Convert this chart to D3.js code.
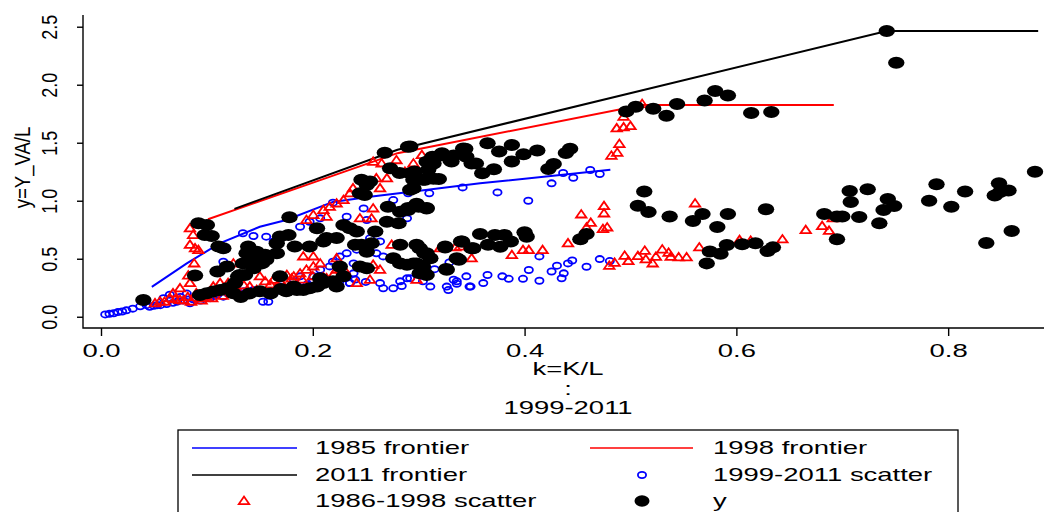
<!DOCTYPE html>
<html>
<head>
<meta charset="utf-8">
<script src="https://cdn.jsdelivr.net/npm/d3@7"></script>
<style>
  html, body { margin: 0; padding: 0; background: #fff; }
  svg { display: block; }
  text { font-family: "Liberation Sans", Arial, Helvetica, sans-serif; fill: #000; }
</style>
</head>
<body>
<svg id="chart" width="1044" height="512"></svg>
<script>
// Frontier polylines (k, y)
const frontier1985 = [[0.048,0.257],[0.081,0.46],[0.112,0.632],[0.150,0.776],[0.175,0.834],[0.219,0.99],[0.254,1.035],[0.295,1.079],[0.358,1.15],[0.481,1.268]];
const frontier1998 = [[0.101,0.84],[0.28,1.41],[0.511,1.825],[0.692,1.825]];
const frontier2011 = [[0.126,0.93],[0.28,1.44],[0.742,2.463],[0.885,2.463]];

// 1999-2011 observations (open blue circles)
const scatter19992011 = [
  [0.004,0.02],[0.008,0.025],[0.012,0.03],[0.016,0.04],[0.02,0.045],[0.024,0.055],[0.03,0.07],[0.037,0.09],
  [0.043,0.1],[0.046,0.086],[0.05,0.095],[0.053,0.1],[0.056,0.1],[0.059,0.16],[0.062,0.11],[0.065,0.19],
  [0.068,0.12],[0.072,0.13],[0.075,0.17],[0.078,0.14],[0.081,0.2],[0.084,0.116],[0.087,0.15],[0.09,0.16],
  [0.094,0.14],[0.097,0.17],[0.103,0.16],[0.107,0.18],[0.11,0.19],[0.1155,0.173],[0.12,0.2],[0.125,0.21],
  [0.131,0.2],[0.135,0.22],[0.144,0.23],[0.148,0.21],[0.153,0.129],[0.158,0.129],[0.163,0.2],[0.169,0.26],
  [0.175,0.24],[0.182,0.305],[0.188,0.348],[0.185,0.27],[0.19,0.25],[0.195,0.28],[0.2,0.3],[0.205,0.27],
  [0.21,0.29],[0.215,0.31],[0.22,0.28],[0.225,0.3],[0.235,0.29],[0.24,0.32],[0.25,0.3],[0.2635,0.29],
  [0.2665,0.245],[0.276,0.245],[0.2825,0.305],[0.289,0.331],[0.284,0.265],[0.292,0.331],[0.304,0.305],
  [0.311,0.26],[0.3265,0.26],[0.328,0.23],[0.333,0.319],[0.336,0.284],[0.345,0.348],[0.349,0.26],
  [0.361,0.29],[0.365,0.36],[0.379,0.348],[0.385,0.327],[0.3985,0.327],[0.404,0.403],[0.414,0.31],
  [0.414,0.52],[0.4255,0.39],[0.4306,0.44],[0.435,0.331],[0.437,0.374],[0.441,0.46],[0.445,0.485],
  [0.4585,0.431],[0.471,0.497],[0.4805,0.48],[0.315,0.41],[0.329,0.468],[0.336,0.305],[0.348,0.26],
  [0.1155,0.474],[0.134,0.72],[0.1375,0.52],[0.144,0.696],[0.156,0.69],[0.163,0.649],[0.188,0.776],
  [0.197,0.819],[0.207,0.848],[0.219,0.983],[0.232,0.862],[0.248,0.934],[0.251,0.834],[0.276,1.006],
  [0.289,0.848],[0.29,1.064],[0.31,1.064],[0.3415,1.115],[0.3744,1.072],[0.4035,1.0],[0.4255,1.15],
  [0.4364,1.239],[0.446,1.198],[0.462,1.265],[0.471,1.23],
  [0.2005,0.348],[0.207,0.405],[0.216,0.434],[0.219,0.474],[0.2255,0.52],[0.232,0.547],[0.2385,0.46],
  [0.2385,0.374],[0.2415,0.578],[0.235,0.29],[0.254,0.676],[0.2635,0.649],[0.26,0.547],[0.2665,0.52]
];

// 1986-1998 observations (open red triangles)
const scatter19861998 = [
  [0.051,0.116],[0.0557,0.132],[0.06,0.13],[0.065,0.159],[0.068,0.202],[0.07,0.15],[0.0746,0.245],[0.0746,0.144],
  [0.078,0.14],[0.082,0.17],[0.0824,0.356],[0.084,0.29],[0.085,0.13],[0.09,0.202],[0.0935,0.159],[0.095,0.14],
  [0.10,0.173],[0.105,0.16],[0.106,0.26],[0.11,0.22],[0.1125,0.29],[0.115,0.18],[0.12,0.29],[0.12,0.25],
  [0.125,0.46],[0.128,0.348],[0.13,0.21],[0.135,0.27],[0.1405,0.26],[0.147,0.23],[0.15,0.348],[0.155,0.305],
  [0.16,0.28],[0.163,0.319],[0.169,0.305],[0.17,0.3],[0.1755,0.36],[0.18,0.33],[0.182,0.348],[0.185,0.26],
  [0.188,0.374],[0.19,0.32],[0.191,0.52],[0.194,0.405],[0.2,0.35],[0.2005,0.434],[0.2005,0.52],[0.207,0.46],
  [0.21,0.34],[0.213,0.331],[0.22,0.37],[0.2225,0.504],[0.2225,0.405],[0.23,0.4],[0.2415,0.29],[0.254,0.319],
  [0.257,0.448],[0.2635,0.405],[0.2745,0.62],[0.298,0.319],[0.32,0.59],[0.3346,0.598],[0.339,0.606],[0.35,0.504],
  [0.084,0.762],[0.087,0.705],[0.084,0.62],[0.0888,0.59],[0.092,0.575],[0.088,0.46],
  [0.194,0.834],[0.2005,0.877],[0.21,0.92],[0.213,0.862],[0.216,0.948],[0.2225,0.977],[0.229,1.006],[0.235,1.064],
  [0.238,1.107],[0.2445,0.848],[0.2555,0.848],[0.257,0.934],[0.2635,1.107],[0.26,1.193],[0.27,1.193],[0.257,1.336],
  [0.265,1.322],[0.279,1.35],[0.287,1.25],[0.295,1.322],[0.303,1.394],
  [0.482,1.388],[0.4875,1.414],[0.4895,1.489],[0.487,1.624],[0.4935,1.633],[0.5,1.644],[0.4935,1.724],[0.511,1.834],
  [0.4535,0.882],[0.475,0.954],[0.475,0.891],[0.4625,0.81],[0.4585,0.77],[0.474,0.756],[0.478,0.77],[0.441,0.633],
  [0.417,0.575],[0.404,0.575],[0.3985,0.575],[0.388,0.532],[0.561,0.977],
  [0.48,0.44],[0.485,0.466],[0.4945,0.526],[0.498,0.48],[0.507,0.523],[0.5135,0.569],[0.5145,0.495],[0.521,0.46],
  [0.524,0.517],[0.53,0.58],[0.536,0.552],[0.538,0.517],[0.5455,0.512],[0.553,0.512],[0.565,0.598],[0.603,0.661],
  [0.6135,0.655],[0.6435,0.667],[0.6655,0.747],[0.681,0.782],[0.6875,0.741],[0.691,0.848]
];

// y observations (filled black dots)
const scatterY = [
  [0.742,2.463],[0.751,2.19],[0.580,1.946],[0.592,1.908],[0.570,1.865],[0.544,1.834],[0.5215,1.793],[0.534,1.733],
  [0.505,1.81],[0.496,1.77],[0.614,1.756],[0.633,1.764],[0.292,1.468],[0.365,1.496],[0.344,1.448],[0.376,1.425],
  [0.388,1.48],[0.399,1.40],[0.412,1.434],[0.443,1.448],[0.439,1.411],[0.322,1.41],[0.333,1.39],[0.313,1.38],
  [0.331,1.339],[0.354,1.322],[0.388,1.339],[0.371,1.272],[0.360,1.237],[0.311,1.305],[0.309,1.267],[0.296,1.253],
  [0.319,1.188],[0.306,1.181],[0.4275,1.316],[0.4225,1.274],[0.292,1.095],[0.282,1.239],
  [0.513,1.08],[0.507,0.957],[0.517,0.903],[0.537,0.865],[0.559,0.825],[0.568,0.886],[0.592,0.886],[0.582,0.773],
  [0.628,0.926],[0.683,0.886],[0.695,0.865],[0.700,0.865],[0.707,1.084],[0.708,0.989],[0.724,1.098],[0.716,0.859],
  [0.735,0.805],[0.743,1.015],[0.749,0.954],[0.739,0.92],[0.695,0.667],[0.789,1.142],[0.782,1.0],[0.803,0.948],
  [0.816,1.08],[0.848,1.15],[0.844,1.046],[0.857,1.089],[0.849,1.075],[0.836,0.636],[0.860,0.739],[0.882,1.25],
  [0.572,0.46],[0.575,0.562],[0.585,0.542],[0.591,0.618],[0.6055,0.624],[0.618,0.633],[0.6295,0.566],[0.6345,0.598],
  [0.4527,0.667],[0.4585,0.713],
  [0.325,0.597],[0.338,0.491],[0.326,0.411],[0.340,0.649],[0.350,0.59],[0.358,0.713],[0.3655,0.62],[0.372,0.705],
  [0.377,0.603],[0.381,0.705],[0.387,0.649],[0.400,0.728],[0.402,0.69],[0.3055,0.547],[0.298,0.46],[0.3055,0.374],
  [0.2825,0.62],[0.29,0.937],[0.298,0.974],[0.3075,0.937],
  [0.040,0.144],[0.092,0.805],[0.100,0.791],[0.098,0.705],[0.1045,0.696],[0.111,0.606],[0.1155,0.59],[0.0888,0.356],
  [0.110,0.39],[0.119,0.434],[0.131,0.36],[0.134,0.46],[0.139,0.606],[0.147,0.56],[0.155,0.534],[0.166,0.633],
  [0.169,0.692],[0.177,0.705],[0.178,0.857],[0.183,0.606],[0.197,0.606],[0.204,0.763],[0.21,0.649],[0.213,0.678],
  [0.2225,0.678],[0.229,0.791],[0.235,0.763],[0.2415,0.735],[0.24,0.62],[0.246,0.62],[0.251,0.56],[0.259,0.735],
  [0.2555,0.633],[0.27,0.819],[0.271,0.948],[0.2825,0.905],[0.29,0.92],[0.30,0.948],[0.3075,0.934],[0.281,0.805],
  [0.246,1.18],[0.251,1.136],[0.254,1.166],[0.2445,1.064],[0.249,1.05],[0.268,1.414],[0.29,1.466],[0.273,1.28],
  [0.292,1.236],[0.295,1.18],[0.3075,1.336],[0.314,1.32],[0.32,1.39],[0.33,1.35],[0.342,1.45],[0.345,1.38],
  [0.35,1.32],[0.304,1.18],[0.314,1.19],[0.295,1.107],
  [0.341,0.649],[0.325,0.606],[0.3515,0.59],[0.298,0.62],[0.301,0.59],[0.3075,0.547],[0.311,0.504],[0.304,0.434],
  [0.295,0.46],[0.289,0.448],[0.2825,0.46],[0.301,0.374],[0.3075,0.36],[0.3265,0.405],[0.276,0.504],[0.336,0.504],
  [0.251,0.417],[0.2445,0.434],[0.2255,0.434],[0.229,0.348],[0.2225,0.26],[0.219,0.305],[0.21,0.29],[0.204,0.26],
  [0.197,0.245],[0.191,0.23],[0.185,0.23],[0.182,0.26],[0.207,0.331],[0.169,0.348],[0.166,0.547],[0.156,0.491],
  [0.152,0.46],[0.144,0.491],[0.1375,0.547],[0.1295,0.348],[0.1265,0.29],[0.125,0.202],[0.119,0.245],[0.1125,0.23],
  [0.106,0.217],[0.10,0.202],[0.0935,0.187],[0.136,0.36],[0.144,0.417],[0.14,0.2],[0.15,0.22],[0.16,0.2],
  [0.17,0.24],[0.175,0.22],[0.132,0.17]
];

// Axis ticks
const xTicks = [0, 0.2, 0.4, 0.6, 0.8];
const yTicks = [0, 0.5, 1.0, 1.5, 2.0, 2.5];

// Legend entries
const legendItems = [
  {label: "1985 frontier", kind: "line", color: "#0000ff"},
  {label: "1998 frontier", kind: "line", color: "#ff0000"},
  {label: "2011 frontier", kind: "line", color: "#000000"},
  {label: "1999-2011 scatter", kind: "circle", color: "#0000ff"},
  {label: "1986-1998 scatter", kind: "triangle", color: "#ff0000"},
  {label: "y", kind: "dot", color: "#000000"}
];

const svg = d3.select("#chart");
const plot = {left: 83, right: 1053, top: 15, bottom: 328};
const x = d3.scaleLinear().domain([-0.017, 0.899]).range([plot.left, plot.right]);
const y = d3.scaleLinear().domain([-0.097, 2.601]).range([plot.bottom, plot.top]);

const FS = 17.5;      // base font size
const SX = 1.57;      // horizontal glyph stretch
const SR = 1.2;       // thickness stretch of rotated labels

const triPath = "M-5.2,3.1 L5.2,3.1 L0,-4.4 Z";

// frontier lines
const line = d3.line().x(d => x(d[0])).y(d => y(d[1]));
const lines = svg.append("g");
[[frontier1985, "#0000ff"], [frontier1998, "#ff0000"], [frontier2011, "#000000"]].forEach(([data, col]) => {
  lines.append("path").attr("d", line(data)).attr("fill", "none")
    .attr("stroke", col).attr("stroke-width", 2);
});

// scatter layers
svg.append("g").selectAll("ellipse").data(scatter19992011).join("ellipse")
  .attr("cx", d => x(d[0])).attr("cy", d => y(d[1]))
  .attr("rx", 4.1).attr("ry", 3.1)
  .attr("fill", "none").attr("stroke", "#0000ff").attr("stroke-width", 1.8);

svg.append("g").selectAll("path").data(scatter19861998).join("path")
  .attr("transform", d => `translate(${x(d[0])},${y(d[1])})`)
  .attr("d", triPath)
  .attr("fill", "none").attr("stroke", "#ff0000").attr("stroke-width", 1.8)
  .attr("stroke-linejoin", "miter");

svg.append("g").selectAll("ellipse").data(scatterY).join("ellipse")
  .attr("cx", d => x(d[0])).attr("cy", d => y(d[1]))
  .attr("rx", 8.2).attr("ry", 6).attr("fill", "#000");

// axes frame (L-shaped)
svg.append("path")
  .attr("d", `M${plot.left},${plot.top} V${plot.bottom} H${plot.right}`)
  .attr("fill", "none").attr("stroke", "#000").attr("stroke-width", 1.4);

// x axis ticks and labels
const xAxis = svg.append("g").attr("transform", `translate(0,${plot.bottom})`)
  .call(d3.axisBottom(x).tickValues(xTicks).tickSize(8).tickSizeOuter(0).tickFormat(d3.format(".1f")));
xAxis.select(".domain").remove();
xAxis.selectAll("line").attr("stroke", "#000").attr("stroke-width", 1.4);
xAxis.selectAll("text")
  .attr("y", null).attr("dy", null).attr("x", 0)
  .attr("transform", `translate(0,29) scale(${SX},1)`)
  .attr("text-anchor", "middle")
  .style("font-size", FS + "px").style("font-family", "Liberation Sans, Arial, sans-serif")
  .attr("fill", "#000");

// y axis ticks and labels (rotated)
const yAxis = svg.append("g").attr("transform", `translate(${plot.left},0)`)
  .call(d3.axisLeft(y).tickValues(yTicks).tickSize(6).tickSizeOuter(0).tickFormat(d3.format(".1f")));
yAxis.select(".domain").remove();
yAxis.selectAll("line").attr("stroke", "#000").attr("stroke-width", 1.4);
yAxis.selectAll("text")
  .attr("x", null).attr("dy", null).attr("y", 0)
  .attr("transform", `translate(-26,0) scale(${SR},1) rotate(-90)`)
  .attr("text-anchor", "middle")
  .style("font-size", (FS + 0.5) + "px").style("font-family", "Liberation Sans, Arial, sans-serif")
  .attr("fill", "#000");

// axis titles
const cx = (plot.left + plot.right) / 2;
function htext(txt, px, py, anchor) {
  svg.append("text").text(txt)
    .attr("transform", `translate(${px},${py}) scale(${SX},1)`)
    .attr("text-anchor", anchor || "middle")
    .style("font-size", FS + "px");
}
htext("k=K/L", cx, 375);
htext(":", cx, 394.5);
htext("1999-2011", cx, 414);

svg.append("text").text("y=Y_VA/L")
  .attr("transform", `translate(29.5,${(plot.top + plot.bottom) / 2 - 4}) scale(${SR},1) rotate(-90)`)
  .attr("text-anchor", "middle")
  .style("font-size", (FS + 1) + "px");

// legend
const lg = svg.append("g");
lg.append("rect").attr("x", 178).attr("y", 430).attr("width", 780).attr("height", 110)
  .attr("fill", "#fff").attr("stroke", "#000").attr("stroke-width", 1.3);
const colX = [{line0: 192, line1: 297, sym: 244, text: 315}, {line0: 590, line1: 693, sym: 642, text: 713}];
const rowY = [448, 475, 501];
legendItems.forEach((it, i) => {
  const c = colX[i % 2], r = rowY[Math.floor(i / 2)];
  if (it.kind === "line") {
    lg.append("line").attr("x1", c.line0).attr("x2", c.line1).attr("y1", r).attr("y2", r)
      .attr("stroke", it.color).attr("stroke-width", 1.6);
  } else if (it.kind === "circle") {
    lg.append("ellipse").attr("cx", c.sym).attr("cy", r).attr("rx", 4.1).attr("ry", 3.1)
      .attr("fill", "none").attr("stroke", it.color).attr("stroke-width", 1.8);
  } else if (it.kind === "triangle") {
    lg.append("path").attr("transform", `translate(${c.sym},${r})`).attr("d", triPath)
      .attr("fill", "none").attr("stroke", it.color).attr("stroke-width", 1.8);
  } else {
    lg.append("ellipse").attr("cx", c.sym).attr("cy", r).attr("rx", 7.5).attr("ry", 5.8).attr("fill", it.color);
  }
  lg.append("text").text(it.label)
    .attr("transform", `translate(${c.text},${r + 6.3}) scale(${SX},1)`)
    .attr("text-anchor", "start")
    .style("font-size", FS + "px");
});
</script>
</body>
</html>
